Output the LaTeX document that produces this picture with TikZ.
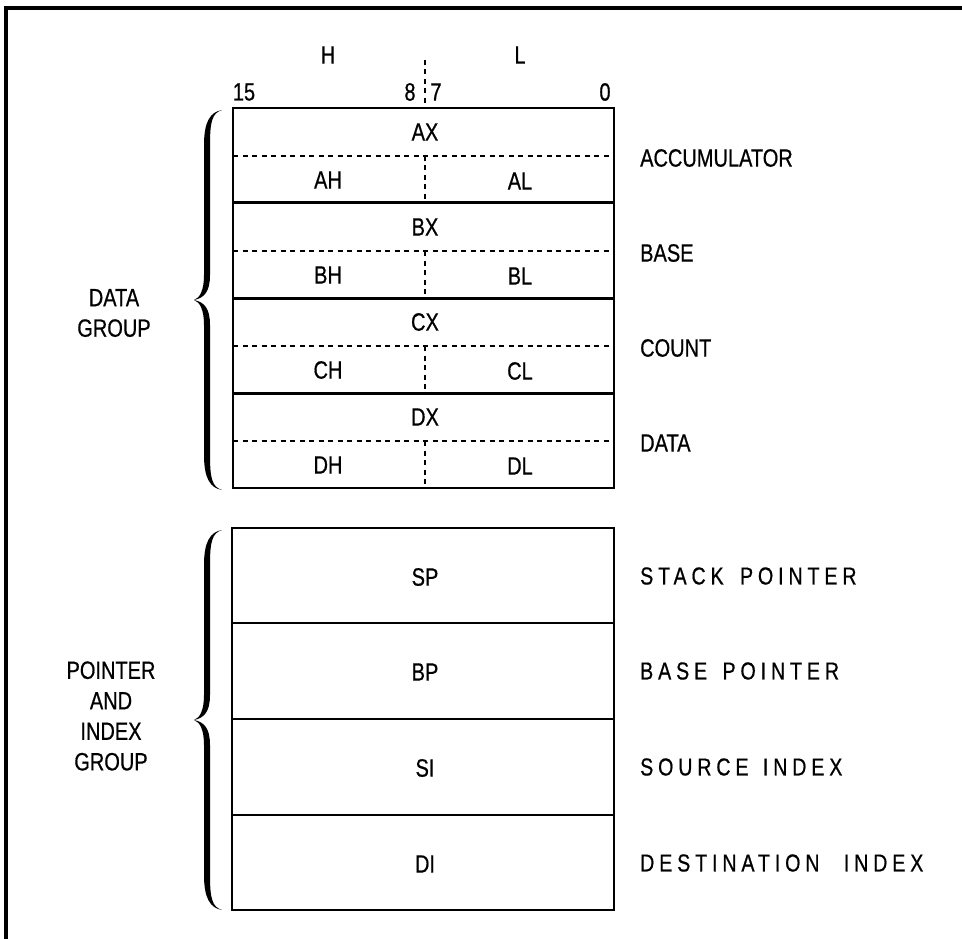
\documentclass[tikz,border=0pt]{standalone}
\usepackage{fontspec}
\setmainfont{Liberation Sans}[FakeStretch=0.8,FakeBold=0.6]
\newfontfamily\spacedfont{Liberation Sans}[FakeStretch=0.8,FakeBold=0.6,LetterSpace=20]
\begin{document}
\begin{tikzpicture}[x=1pt,y=-1pt,
  lbl/.style={inner sep=0pt,font=\fontsize{25}{30.5}\selectfont},
  grp/.style={lbl,align=center},
  side/.style={lbl,anchor=west},
  wide/.style={inner sep=0pt,anchor=west,font=\fontsize{24.5}{30}\spacedfont},
  box/.style={line width=1.5pt},
  sep/.style={line width=3pt},
  psep/.style={line width=2pt},
  dsh/.style={line width=1.2pt,dash pattern=on 5pt off 4.5pt},
  frame/.style={line width=3.5pt}]
\useasboundingbox (0,0) rectangle (962,939);
\newcommand{\regbrace}[2]{%
  \pgfmathsetmacro\ym{(#1+#2)/2}%
  \fill (222,#1) .. controls (210,#1+2) and (204,#1+12) .. (204,#1+35)
    -- (204,\ym-25) .. controls (204,\ym-10) and (200,\ym-2) .. (194,\ym)
    .. controls (200,\ym+2) and (204,\ym+10) .. (204,\ym+25)
    -- (204,#2-35) .. controls (204,#2-12) and (210,#2-2) .. (222,#2)
    .. controls (212,#2-3) and (210,#2-12) .. (210,#2-35)
    -- (210,\ym+25) .. controls (210,\ym+8) and (204,\ym+2) .. (194,\ym)
    .. controls (204,\ym-2) and (210,\ym-8) .. (210,\ym-25)
    -- (210,#1+35) .. controls (210,#1+12) and (212,#1+3) .. (222,#1) -- cycle;}
% frame
\coordinate (fTL) at (6,8);
\coordinate (fTR) at (962,8);
\coordinate (fBL) at (6,939);
\draw[frame] (fTR) -- (fTL) -- (fBL);
% column heads
\node[lbl] (hH) at (328,55) {H};
\node[lbl] (hL) at (520,55) {L};
\node[lbl] (b15) at (244,92) {15};
\node[lbl] (b8) at (410,92) {8};
\node[lbl] (b7) at (436,92) {7};
\node[lbl] (b0) at (605,92) {0};
% data group box
\coordinate (dTL) at (233,108);
\coordinate (dBR) at (614,488);
\coordinate (vTop) at (425,60);
\coordinate (vBox) at (425,108);
\draw[dsh] (vTop) -- (vBox);
\foreach \y/\u/\h/\l/\name/\nm in {108/AX/AH/AL/ACCUMULATOR/a,203/BX/BH/BL/BASE/b,298/CX/CH/CL/COUNT/c,393/DX/DH/DL/DATA/d}{
  \coordinate (\nm dl) at (233,\y+48);
  \coordinate (\nm dr) at (614,\y+48);
  \coordinate (\nm vt) at (425,\y+48);
  \coordinate (\nm vb) at (425,\y+95);
  \draw[dsh] (\nm dl) -- (\nm dr);
  \draw[dsh] (\nm vt) -- (\nm vb);
  \node[lbl] (\nm x) at (425,\y+24) {\u};
  \node[lbl] (\nm h) at (328,\y+72) {\h};
  \node[lbl] (\nm l) at (520,\y+73) {\l};
  \node[side] (\nm name) at (640,\y+50) {\name};
}
\foreach \y/\nm in {203/s1,298/s2,393/s3}{
  \coordinate (\nm a) at (233,\y);
  \coordinate (\nm b) at (614,\y);
  \draw[sep] (\nm a) -- (\nm b);
}
\draw[box] (dTL) rectangle (dBR);
% pointer group box
\coordinate (pTL) at (232,528);
\coordinate (pBR) at (614,910);
\foreach \y/\nm in {623/p1,719/p2,815/p3}{
  \coordinate (\nm a) at (232,\y);
  \coordinate (\nm b) at (614,\y);
  \draw[psep] (\nm a) -- (\nm b);
}
\draw[box] (pTL) rectangle (pBR);
\node[lbl] (sp) at (425,577) {SP};
\node[lbl] (bp) at (425,672) {BP};
\node[lbl] (si) at (425,768) {SI};
\node[lbl] (di) at (425,864) {DI};
\node[wide] (spn) at (640,576) {STACK\hspace{6pt} POINTER};
\node[wide] (bpn) at (640,671) {BASE\hspace{5pt} POINTER};
\node[wide] (sin) at (640,767) {SOURCE\hspace{4pt} INDEX};
\node[wide] (din) at (640,863) {DESTINATION\hspace{14pt} INDEX};
% braces
\regbrace{110}{490}
\regbrace{530}{910}
% group labels
\node[grp] (dgrp) at (114,313) {DATA\\GROUP};
\node[grp] (pgrp) at (111,716) {POINTER\\AND\\INDEX\\GROUP};
\end{tikzpicture}
\end{document}
